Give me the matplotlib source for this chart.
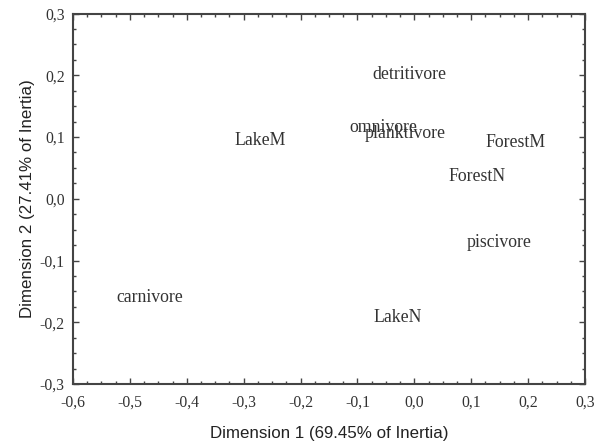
import matplotlib
matplotlib.use("Agg")
import matplotlib.pyplot as plt
from matplotlib.ticker import MultipleLocator, AutoMinorLocator, FuncFormatter

labels = ["detritivore", "omnivore", "planktivore", "LakeM", "ForestM", "ForestN",
          "piscivore", "carnivore", "LakeN"]
dim1 = [-0.073, -0.114, -0.087, -0.317, 0.125, 0.060, 0.092, -0.523, -0.072]
dim2 = [0.201, 0.115, 0.105, 0.094, 0.091, 0.036, -0.071, -0.160, -0.192]

xticks = [-0.6, -0.5, -0.4, -0.3, -0.2, -0.1, 0.0, 0.1, 0.2, 0.3]
yticks = [-0.3, -0.2, -0.1, 0.0, 0.1, 0.2, 0.3]

fig = plt.figure(figsize=(6.04, 4.43), dpi=100)
ax = fig.add_axes([73/604, 1-384/443, (585-73)/604, (384-13.5)/443])

for lab, x, y in zip(labels, dim1, dim2):
    ax.text(x, y, lab, ha="left", va="center", family="Liberation Serif",
            fontsize=12.8, color="#333333")

ax.set_xlim(-0.6, 0.3)
ax.set_ylim(-0.3, 0.3)
ax.set_xticks(xticks)
ax.set_yticks(yticks)
ax.xaxis.set_minor_locator(AutoMinorLocator(4))
ax.yaxis.set_minor_locator(AutoMinorLocator(4))
fmt = FuncFormatter(lambda v, p: f"{v:.1f}".replace(".", ",").replace("-0,0", "0,0"))
ax.xaxis.set_major_formatter(fmt)
ax.yaxis.set_major_formatter(fmt)
ax.tick_params(which="both", direction="in", top=True, right=True, color="#444444")
ax.tick_params(which="major", length=4, width=1)
ax.tick_params(which="minor", length=2.5, width=1)
ax.tick_params(which="major", labelsize=11.3, labelcolor="#333333")
ax.tick_params(axis="x", which="major", pad=8)
ax.tick_params(axis="y", which="major", pad=6)
for lbl in ax.get_xticklabels() + ax.get_yticklabels():
    lbl.set_family("Liberation Serif")
for s in ax.spines.values():
    s.set_color("#444444")
    s.set_linewidth(1.5)

ax.set_xlabel("Dimension 1 (69.45% of Inertia)", family="Liberation Sans", fontsize=12.2,
              color="#222222", labelpad=11)
ax.set_ylabel("Dimension 2 (27.41% of Inertia)", family="Liberation Sans", fontsize=12.2,
              color="#222222", labelpad=3)

fig.savefig("out.png", dpi=100)
